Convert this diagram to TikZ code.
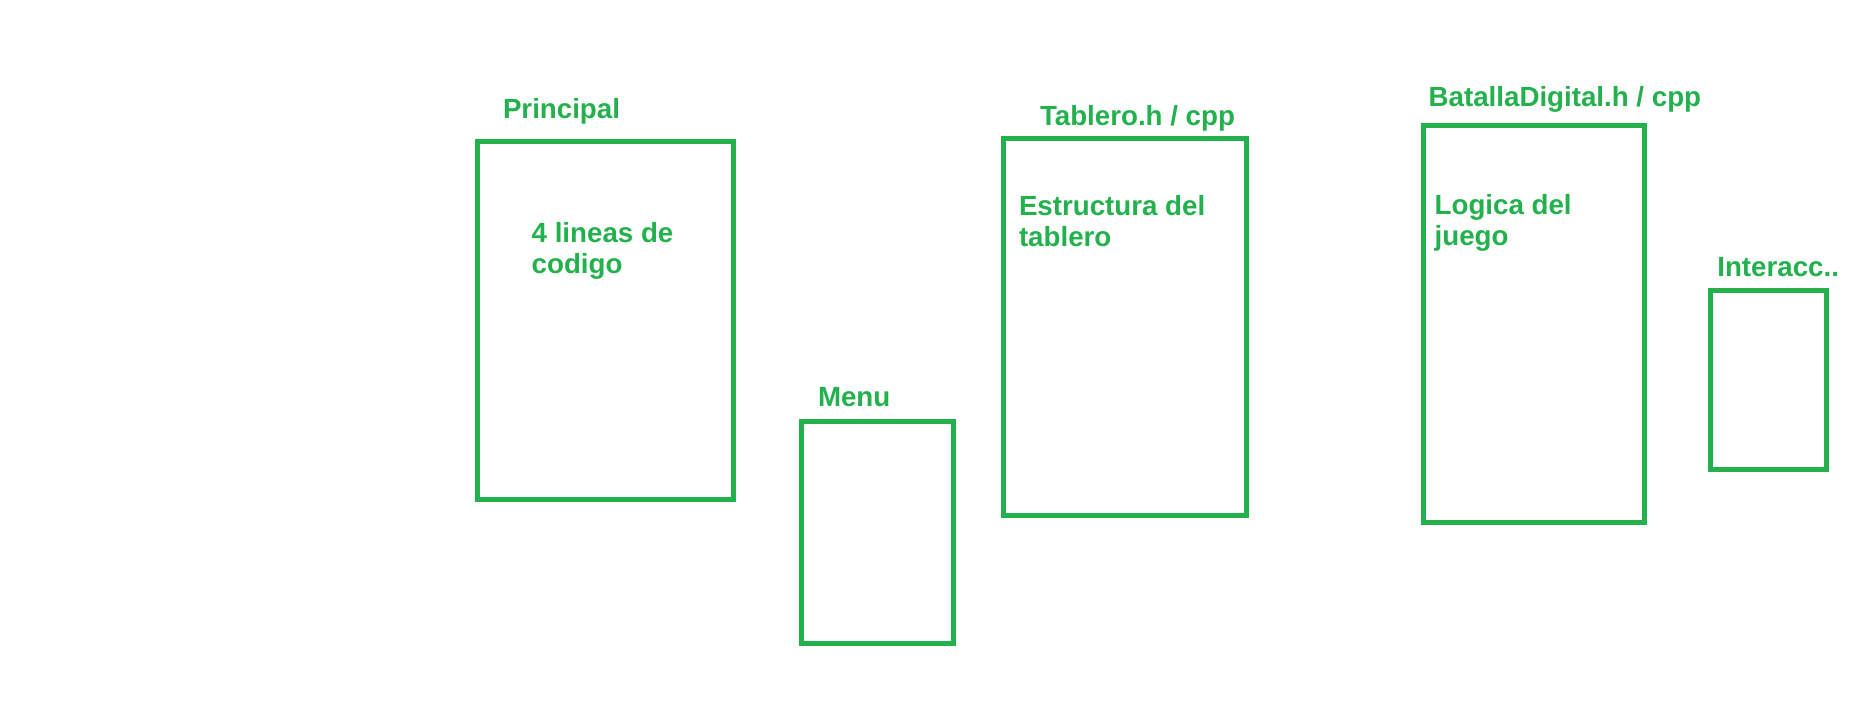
\documentclass[tikz,border=0pt]{standalone}
\usepackage{fontspec}
\setmainfont{Liberation Sans}
\definecolor{paintgreen}{RGB}{34,177,76}
\begin{document}
\begin{tikzpicture}[x=1pt,y=-1pt,
  box/.style={draw=paintgreen,line width=5pt,rectangle,inner sep=0pt,outer sep=0pt},
  lbl/.style={text=paintgreen,font=\fontsize{27.7}{30.8}\selectfont\bfseries,anchor=base west,inner sep=0pt,outer sep=0pt,align=left}]
\useasboundingbox[fill=white] (0,0) rectangle (1857,724);
% boxes
\node[box,minimum width=256pt,minimum height=358pt] (principal) at (605.5,320) {};
\node[box,minimum width=151.7pt,minimum height=221.7pt] (menu) at (877.35,532.65) {};
\node[box,minimum width=243pt,minimum height=377.3pt] (tablero) at (1125,327.15) {};
\node[box,minimum width=220.7pt,minimum height=397pt] (batalla) at (1533.85,324) {};
\node[box,minimum width=116pt,minimum height=179pt] (interacc) at (1768.8,380.3) {};
% titles
\node[lbl] (tprincipal) at (503,118.3) {Principal};
\node[lbl] (tmenu) at (818,406.7) {Menu};
\node[lbl] (ttablero) at (1040,125) {Tablero.h / cpp};
\node[lbl] (tbatalla) at (1428.7,106) {BatallaDigital.h / cpp};
\node[lbl] (tinteracc) at (1717.3,276.7) {Interacc..};
% contents (anchored at the baseline of the last line)
\node[lbl] (cprincipal) at (531.7,273.4) {4 lineas de\\codigo};
\node[lbl] (ctablero) at (1019,246.7) {Estructura del\\tablero};
\node[lbl] (cbatalla) at (1434.7,245.7) {Logica del\\juego};
\end{tikzpicture}
\end{document}
